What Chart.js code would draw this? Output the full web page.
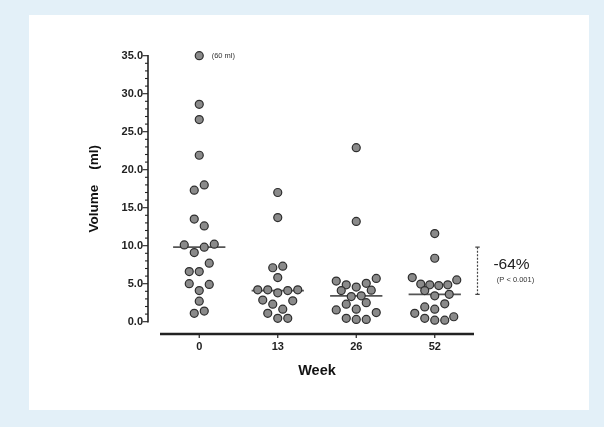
<!DOCTYPE html>
<html><head><meta charset="utf-8">
<script src="https://cdn.jsdelivr.net/npm/chart.js@4.4.0/dist/chart.umd.min.js"></script>
<style>
html,body{margin:0;padding:0;background:#e3f0f8;}
#wrap{position:relative;width:604px;height:427px;overflow:hidden;}
#panel{position:absolute;left:29px;top:15px;width:560px;height:395px;background:#fff;}
#c{position:absolute;left:0;top:0;}
</style></head><body>
<div id="wrap"><div id="panel"></div><canvas id="c" width="604" height="427"></canvas></div>
<script>
// ---- data ----
const weekLabels = ['0', '13', '26', '52'];

const week0Values = [60, 28.6, 26.6, 21.9, 18.0, 17.3, 13.5, 12.6, 10.1, 9.8, 10.2, 9.1, 7.7, 6.6, 6.6, 5.0, 4.9, 4.1, 2.7, 1.1, 1.4];
const week0Cols   = [0, 0, 0, 0, 0.5, -0.5, -0.5, 0.5, -1.5, 0.5, 1.5, -0.5, 1, -1, 0, -1, 1, 0, 0, -0.5, 0.5];

const week13Values = [17.0, 13.7, 7.1, 7.3, 5.8, 4.2, 4.2, 3.8, 4.1, 4.2, 2.85, 2.75, 2.3, 1.65, 1.1, 0.45, 0.45];
const week13Cols   = [0, 0, -0.5, 0.5, 0, -2, -1, 0, 1, 2, -1.5, 1.5, -0.5, 0.5, -1, 0, 1];

const week26Values = [22.9, 13.2, 5.7, 5.35, 5.05, 4.85, 4.55, 4.15, 4.1, 3.3, 3.4, 2.3, 2.5, 1.55, 1.65, 1.2, 0.45, 0.3, 0.3];
const week26Cols   = [0, 0, 2, -2, 1, -1, 0, 1.5, -1.5, -0.5, 0.5, -1, 1, -2, 0, 2, -1, 0, 1];

const week52Values = [11.6, 8.35, 5.8, 5.5, 4.95, 4.85, 4.75, 4.85, 4.1, 3.4, 3.6, 2.35, 1.95, 1.65, 1.1, 0.45, 0.2, 0.2, 0.65];
const week52Cols   = [0, 0, -2.25, 2.2, -1.4, -0.5, 0.4, 1.3, -1, 0, 1.45, 1, -1, 0, -2, -1, 0, 1, 1.9];

const yTickMax = 35;
const changeText = '-64%';
const pText = '(P < 0.001)';

// ---- build ----
const swarmStep = 0.1274;   // category units per swarm column
const medianHalf = 0.333;   // half length of median bar, category units

function median(a) {
  const s = [...a].sort((p, q) => p - q), n = s.length;
  return n % 2 ? s[(n - 1) / 2] : (s[n / 2 - 1] + s[n / 2]) / 2;
}

const groups = [[week0Values, week0Cols], [week13Values, week13Cols], [week26Values, week26Cols], [week52Values, week52Cols]];
const medians = groups.map(g => median(g[0]));

const datasets = [];
groups.forEach(([vals, cols], i) => {
  datasets.push({
    type: 'scatter',
    data: vals.map((v, j) => ({ x: i + cols[j] * swarmStep, y: Math.min(v, yTickMax), raw: v })),
    pointRadius: 4,
    pointHoverRadius: 4,
    pointBackgroundColor: '#8a8a8a',
    pointBorderColor: '#2e2e2e',
    pointBorderWidth: 1.2,
    showLine: false,
    clip: false,
    order: 0
  });
});
medians.forEach((m, i) => {
  datasets.push({
    type: 'line',
    data: [{ x: i - medianHalf, y: m }, { x: i + medianHalf, y: m }],
    borderColor: '#555',
    borderWidth: 1.7,
    pointRadius: 0,
    clip: false,
    order: 1
  });
});

const decor = {
  id: 'decor',
  afterDatasetsDraw(chart) {
    const ctx = chart.ctx, xs = chart.scales.x, ys = chart.scales.y, ca = chart.chartArea;
    const axisX = ca.left - 12, axisY = ca.bottom + 12.3;
    ctx.save();
    ctx.strokeStyle = '#222';
    // y axis
    ctx.lineWidth = 1.6;
    ctx.beginPath();
    ctx.moveTo(axisX, ys.getPixelForValue(0) + 0.7);
    ctx.lineTo(axisX, ys.getPixelForValue(yTickMax) - 0.7);
    ctx.stroke();
    ctx.lineWidth = 1.1;
    for (let v = 0; v <= yTickMax; v++) {
      const len = v % 5 === 0 ? 5.5 : 3;
      const py = ys.getPixelForValue(v);
      ctx.beginPath(); ctx.moveTo(axisX, py); ctx.lineTo(axisX - len, py); ctx.stroke();
    }
    // x axis
    ctx.lineWidth = 2.4;
    ctx.beginPath();
    ctx.moveTo(xs.getPixelForValue(-0.5), axisY);
    ctx.lineTo(xs.getPixelForValue(3.5), axisY);
    ctx.stroke();
    ctx.lineWidth = 1.2;
    weekLabels.forEach((_, i) => {
      const px = xs.getPixelForValue(i);
      ctx.beginPath(); ctx.moveTo(px, axisY); ctx.lineTo(px, axisY + 4); ctx.stroke();
    });
    // change bracket
    const bx = Math.round(xs.getPixelForValue(3.5) + 2.7) + 0.5;
    const y1 = ys.getPixelForValue(medians[0]), y2 = ys.getPixelForValue(medians[3]);
    ctx.strokeStyle = '#444';
    ctx.lineWidth = 1.2;
    ctx.setLineDash([2, 1.5]);
    ctx.beginPath(); ctx.moveTo(bx, y1); ctx.lineTo(bx, y2); ctx.stroke();
    ctx.setLineDash([]);
    ctx.beginPath();
    ctx.moveTo(bx - 2.2, y1); ctx.lineTo(bx + 2.2, y1);
    ctx.moveTo(bx - 2.2, y2); ctx.lineTo(bx + 2.2, y2);
    ctx.stroke();
    const fam = '"Liberation Sans", Arial, Helvetica, sans-serif';
    ctx.fillStyle = '#222';
    ctx.textAlign = 'center';
    ctx.textBaseline = 'middle';
    ctx.font = '15.5px ' + fam;
    ctx.fillText(changeText, bx + 34, (y1 + y2) / 2 - 6);
    ctx.fillStyle = '#333';
    ctx.font = '7.5px ' + fam;
    ctx.fillText(pText, bx + 38, (y1 + y2) / 2 + 9.5);
    // off-scale value labels
    ctx.textAlign = 'left';
    groups.forEach(([vals, cols], i) => {
      vals.forEach((v, j) => {
        if (v > yTickMax) {
          const px = xs.getPixelForValue(i + cols[j] * swarmStep);
          const py = ys.getPixelForValue(yTickMax);
          ctx.fillText('(' + v + ' ml)', px + 12.4, py + 0.5);
        }
      });
    });
    ctx.restore();
  }
};

Chart.defaults.font.family = '"Liberation Sans", Arial, Helvetica, sans-serif';
new Chart(document.getElementById('c'), {
  type: 'scatter',
  data: { datasets },
  options: {
    responsive: false,
    animation: false,
    devicePixelRatio: 1,
    layout: { padding: { top: 55.7, right: 130, bottom: 0, left: 0 } },
    plugins: { legend: { display: false }, tooltip: { enabled: false } },
    events: [],
    scales: {
      x: {
        type: 'linear',
        min: -0.5, max: 3.5,
        afterBuildTicks: s => { s.ticks = weekLabels.map((_, i) => ({ value: i })); },
        afterFit: s => { s.height = 105.3; },
        ticks: {
          callback: v => weekLabels[v],
          font: { size: 11, weight: 'bold' },
          color: '#222',
          padding: 19,
          maxRotation: 0,
          autoSkip: false
        },
        grid: { display: false, drawTicks: false },
        border: { display: false },
        title: {
          display: true,
          text: 'Week',
          font: { size: 14.5, weight: 'bold' },
          color: '#111',
          padding: { top: 0, bottom: 47 }
        }
      },
      y: {
        type: 'linear',
        min: 0, max: yTickMax,
        afterFit: s => { s.width = 160; },
        ticks: {
          stepSize: 5,
          callback: v => v.toFixed(1),
          font: { size: 11, weight: 'bold' },
          color: '#222',
          padding: 17
        },
        grid: { display: false, drawTicks: false },
        border: { display: false },
        title: {
          display: true,
          text: 'Volume    (ml)',
          font: { size: 13.5, weight: 'bold' },
          color: '#111',
          padding: { top: 86, bottom: 0 }
        }
      }
    }
  },
  plugins: [decor]
});
</script>
</body></html>
